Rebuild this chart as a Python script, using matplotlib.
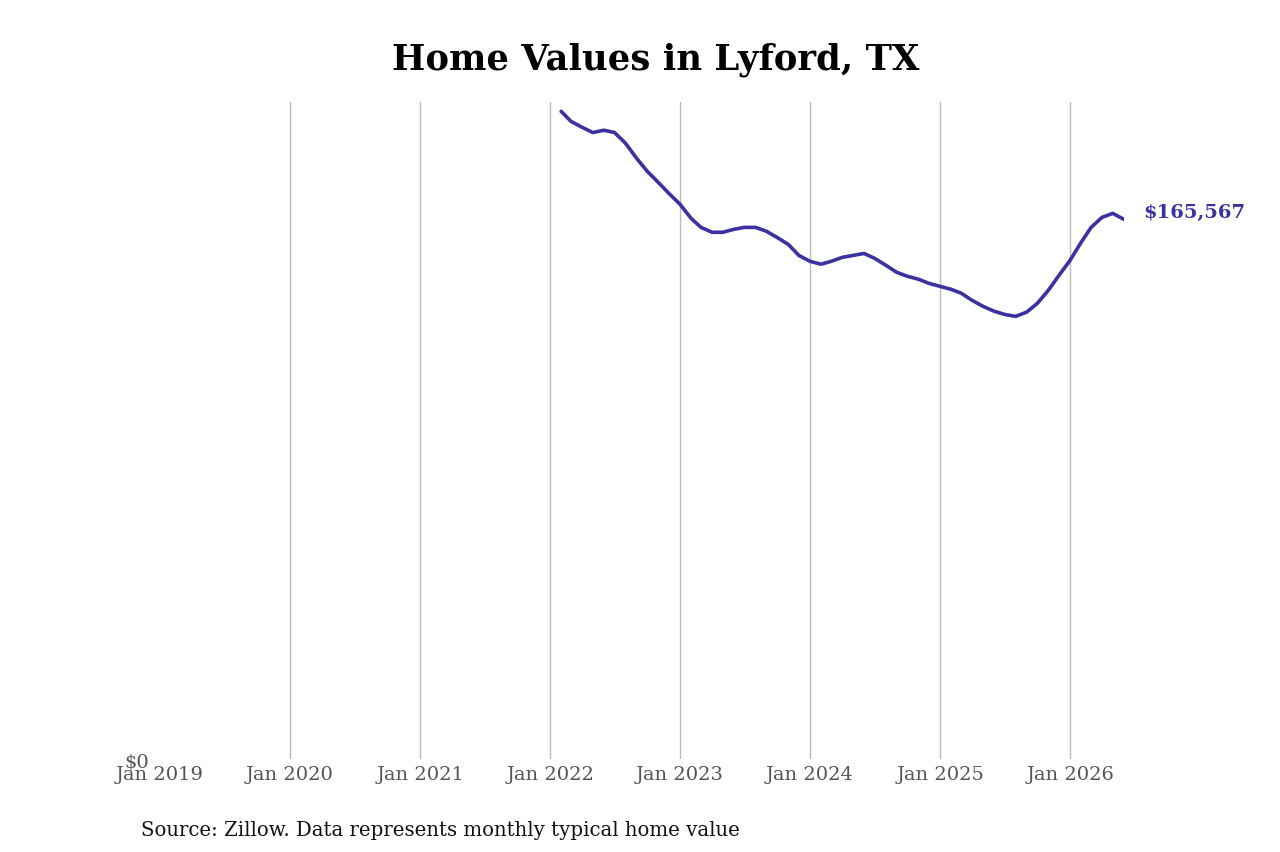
import numpy as np
import pandas as pd
import matplotlib
matplotlib.use("Agg")
import matplotlib.pyplot as plt
import matplotlib.dates as mdates

# Monthly typical home value, Feb 2022 - Jun 2026
months = pd.date_range("2022-02-01", "2026-06-01", freq="MS")
values = [
    198700, 195600, 193800, 192200, 192900, 192200, 188900, 184300, 180300, 176900, 173500,
    170200, 165900, 163100, 161600, 161600, 162500, 163100, 163100, 161900, 160000, 157900, 154500,
    152700, 151800, 152700, 153900, 154500, 155100, 153600, 151500, 149300, 148100, 147200, 145900,
    145000, 144100, 142900, 140700, 138900, 137400, 136400, 135800, 137100, 139800, 143800, 148400,
    153000, 158500, 163100, 166200, 167400, 165567,
]
year_ticks = pd.date_range("2019-01-01", "2026-01-01", freq="YS")
last_label = "$165,567"

line_color = "#3b319f"
plt.rcParams['font.family'] = ['DejaVu Serif']

fig = plt.figure(figsize=(12.8, 8.53), dpi=100)
ax = fig.add_axes([0.125, 0.109, 0.753, 0.770])

ax.plot(months, values, color=line_color, linewidth=2.6, solid_capstyle="round")

ax.set_xlim(pd.Timestamp("2019-01-01"), months[-1])
ax.set_ylim(0, 201500)

ax.set_xticks(year_ticks)
ax.xaxis.set_major_formatter(mdates.DateFormatter("%b %Y"))
ax.set_yticks([0])
ax.set_yticklabels(["$0"])

for s in ax.spines.values():
    s.set_visible(False)
ax.tick_params(axis="both", length=0, labelsize=14, colors="#555555")
ax.tick_params(axis="x", pad=4)
ax.tick_params(axis="y", pad=8)
ax.grid(axis="x", color="#bbbbbb", linewidth=1)
ax.grid(axis="y", visible=False)
# hide the gridline at the left edge
ax.xaxis.get_gridlines()[0].set_visible(False)

ax.annotate(last_label, xy=(months[-1], values[-1]), xytext=(14, 5),
            textcoords="offset points", fontsize=14, fontweight="bold",
            color=line_color, va="center", ha="left", annotation_clip=False)

fig.suptitle("Home Values in Lyford, TX", fontsize=25.5, fontweight="bold",
             x=0.512, y=0.950)
fig.text(0.110, 0.020, "Source: Zillow. Data represents monthly typical home value",
         fontsize=14.2, color="#111111")

fig.savefig("out.png", dpi=100)
